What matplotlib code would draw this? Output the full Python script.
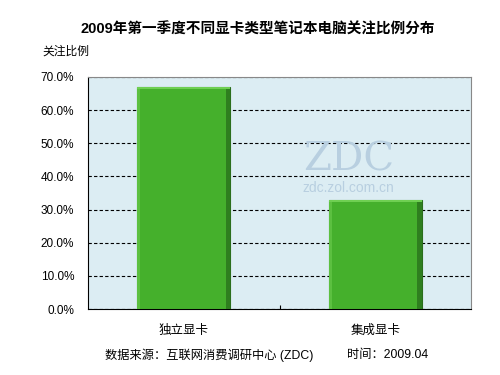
import matplotlib
matplotlib.use("Agg")
import matplotlib.pyplot as plt
import numpy as np
from matplotlib.ticker import MultipleLocator, FuncFormatter

plt.rcParams['font.family'] = ['Liberation Sans', 'Noto Sans CJK SC', 'DejaVu Sans']

categories = ["独立显卡", "集成显卡"]
values = [67.0, 33.0]

title = "2009年第一季度不同显卡类型笔记本电脑关注比例分布"
ylabel = "关注比例"
source = "数据来源：互联网消费调研中心 (ZDC)"
date = "时间：2009.04"

fig = plt.figure(figsize=(5, 3.75), dpi=100)
ax = fig.add_axes([0.176, 0.176, 0.766, 0.619])
ax.set_facecolor("#dcedf3")

x = np.arange(len(categories))
w = 0.485
bars = ax.bar(x, values, width=w, color="#45b02c", edgecolor="#2b6e1c",
              linewidth=0.8, zorder=3)
# simple bevel: lighter top strip, darker right strip
for xi, v in zip(x, values):
    ax.bar(xi, 0.8, bottom=v - 0.8, width=w, color="#6fcf52", linewidth=0, zorder=4)
    ax.bar(xi + w / 2 - 0.012, v - 0.8, width=0.024, color="#2f7f1f", linewidth=0, zorder=4)
    ax.bar(xi - w / 2 + 0.008, v - 0.8, width=0.016, color="#5cc040", linewidth=0, zorder=4)

ax.set_xlim(-0.5, 1.5)
ax.set_ylim(0, 70)
ax.yaxis.set_major_locator(MultipleLocator(10))
ax.yaxis.set_major_formatter(FuncFormatter(lambda v, p: f"{v:.1f}%"))
ax.yaxis.grid(True, color="black", linestyle=(0, (3, 2)), linewidth=0.8, zorder=1)
ax.set_axisbelow(True)

ax.set_xticks([0.5])
ax.set_xticklabels([""])
ax.tick_params(axis="x", direction="in", length=3)
ax.tick_params(axis="y", length=0, labelsize=8.5, pad=10)
for xi, c in zip(x, categories):
    ax.text(xi, -6.5, c, ha="center", va="center", fontsize=9)

for s in ["left", "bottom"]:
    ax.spines[s].set_color("black")
for s in ["top", "right"]:
    ax.spines[s].set_color("#888888")

ax.text(0.68, 0.64, "ZDC", transform=ax.transAxes, ha="center", va="center",
        fontsize=29, family="DejaVu Serif", color="#b8cfe0", zorder=2)
ax.text(0.68, 0.52, "zdc.zol.com.cn", transform=ax.transAxes, ha="center",
        va="center", fontsize=10, color="#b8cfe0", zorder=2)

fig.text(0.516, 0.92, title, ha="center", va="center", fontsize=10.5, fontweight="bold")
fig.text(0.084, 0.862, ylabel, ha="left", va="center", fontsize=8.5)
fig.text(0.21, 0.053, source, ha="left", va="center", fontsize=8.8)
fig.text(0.695, 0.053, date, ha="left", va="center", fontsize=8.8)

fig.savefig("out.png", dpi=100)
